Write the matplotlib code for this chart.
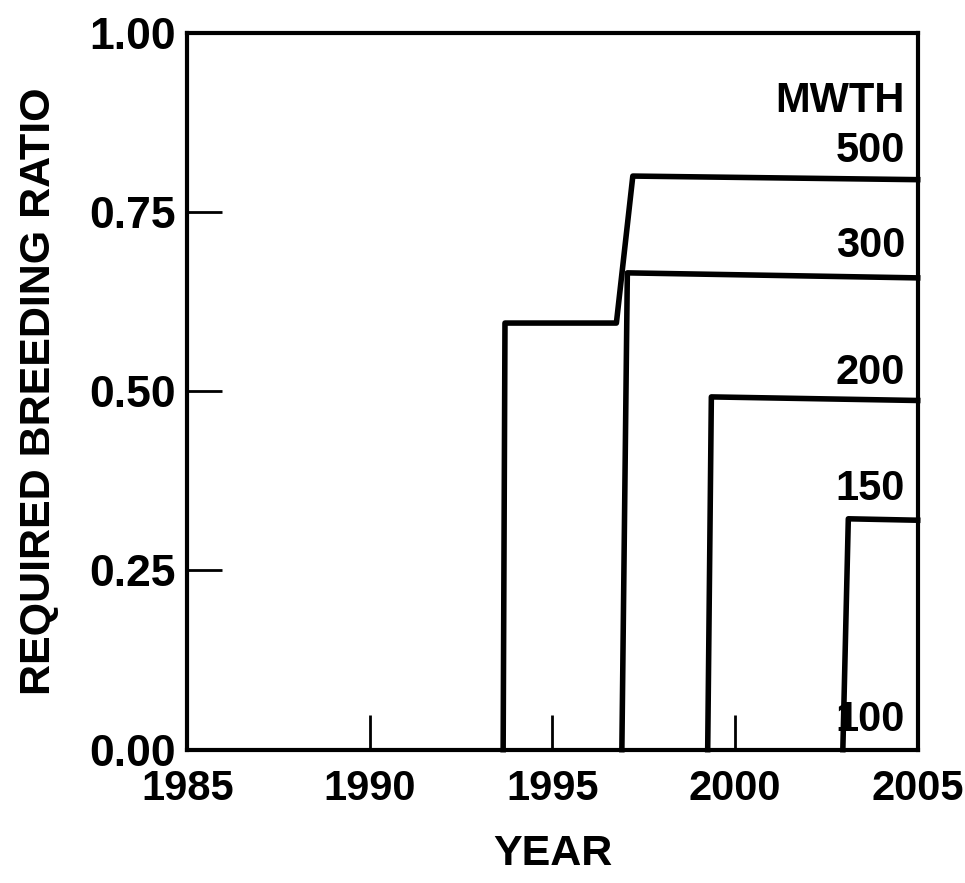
import matplotlib.pyplot as plt

plt.rcParams['font.family'] = ['Liberation Sans', 'DejaVu Sans']
plt.rcParams['font.weight'] = 'bold'

# step curves
x_500 = [1993.65, 1993.7, 1996.75, 1997.2, 2005]
y_500 = [0.0, 0.595, 0.595, 0.80, 0.795]
x_300 = [1996.9, 1997.05, 2005]
y_300 = [0.0, 0.665, 0.658]
x_200 = [1999.25, 1999.35, 2005]
y_200 = [0.0, 0.492, 0.487]
x_150 = [2002.95, 2003.1, 2005]
y_150 = [0.0, 0.322, 0.32]

labels = ['MWTH', '500', '300', '200', '150', '100']
label_y = [0.905, 0.835, 0.703, 0.526, 0.364, 0.042]

fig = plt.figure(figsize=(9.65, 8.83), dpi=100)
ax = fig.add_axes([0.194, 0.151, 0.757, 0.812])

for xs, ys in [(x_500, y_500), (x_300, y_300), (x_200, y_200), (x_150, y_150)]:
    ax.plot(xs, ys, color='black', lw=4, solid_joinstyle='round', clip_on=False)

for lab, yy in zip(labels, label_y):
    ax.text(2004.65, yy, lab, ha='right', va='center', fontsize=30, fontweight='bold')

ax.set_xlim(1985, 2005)
ax.set_ylim(0, 1)
ax.set_xticks([1985, 1990, 1995, 2000, 2005])
ax.set_yticks([0, 0.25, 0.5, 0.75, 1.0])
ax.set_yticklabels(['0.00', '0.25', '0.50', '0.75', '1.00'])
ax.tick_params(direction='in', length=25, width=2)
ax.tick_params(axis='x', pad=14, labelsize=30)
ax.tick_params(axis='y', pad=8, labelsize=32)
for t in ax.get_xticklabels() + ax.get_yticklabels():
    t.set_fontweight('bold')
for s in ax.spines.values():
    s.set_linewidth(3)

ax.set_xlabel('YEAR', fontsize=31, fontweight='bold', labelpad=18)
ax.set_ylabel('REQUIRED BREEDING RATIO', fontsize=31, fontweight='bold', labelpad=22)

plt.savefig('out.png', dpi=100)
